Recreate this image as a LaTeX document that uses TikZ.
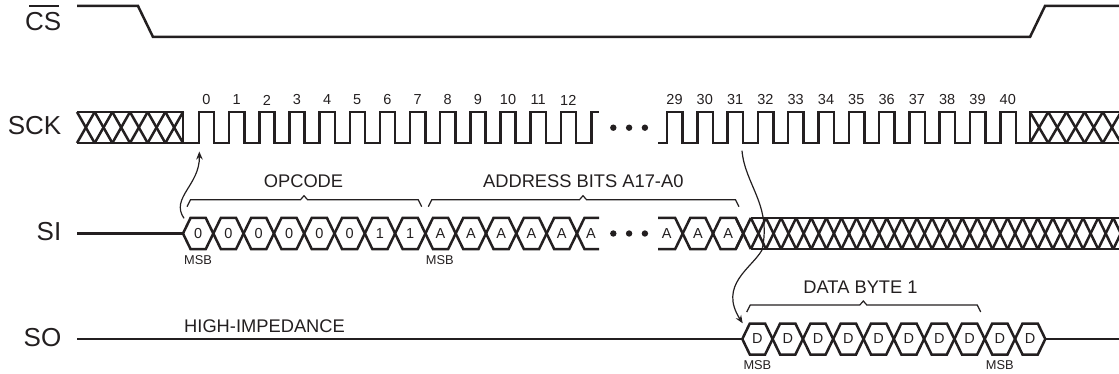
\documentclass[tikz,border=0pt]{standalone}
\usepackage{fontspec}
\setmainfont{Liberation Sans}
\usetikzlibrary{arrows.meta,positioning}
\definecolor{inkblack}{HTML}{231F20}
\tikzset{
  wave/.style={draw=inkblack, line width=2.5pt, line join=miter},
  thinline/.style={draw=inkblack, line width=1.2pt},
  flowarrow/.style={-{Stealth[length=8pt,width=6.5pt]}, draw=inkblack, line width=1.2pt},
  pinlabel/.style={inner sep=0pt, text=inkblack, anchor=east, font=\fontsize{26}{28}\selectfont},
  buslabel/.style={inner sep=0pt, text=inkblack, font=\fontsize{18.3}{20}\selectfont},
  clklabel/.style={inner sep=0pt, text=inkblack, font=\fontsize{14.5}{16}\selectfont},
  bitlabel/.style={inner sep=0pt, text=inkblack, font=\fontsize{14.5}{16}\selectfont},
  msblabel/.style={inner sep=0pt, text=inkblack, font=\fontsize{12.8}{14}\selectfont},
  gapdot/.style={circle, fill=inkblack, inner sep=0pt, minimum size=6.4pt},
}
\newcommand{\bitcell}[4]{%
  \draw[wave] (#2,#3) -- ++(7.5,-15.5) -- ++(15.3,0) -- ++(7.5,15.5) -- ++(-7.5,15.5) -- ++(-15.3,0) -- cycle;
  \node[bitlabel] (#1) at (#2+15.15,#3) {#4};
}
\newcommand{\busbrace}[4]{%
  \draw[thinline] (#1,#4+7) -- (#1+3.5,#4) -- (#3-3.5,#4) -- (#3,#4-4) -- (#3+3.5,#4) -- (#2-3.5,#4) -- (#2,#4+7);
}

\begin{document}
\begin{tikzpicture}[x=1pt, y=-1pt]
    \useasboundingbox (0,0) rectangle (1119,374);

    \node[pinlabel] (cs) at (61.5,22) {CS};
    \node[pinlabel] (sck) at (61.5,126) {SCK};
    \node[pinlabel] (si) at (61.5,232) {SI};
    \node[pinlabel] (so) at (61.5,338) {SO};
    \draw[thinline, line width=1.4pt] (29,6) -- (59,6);

    \draw[wave] (77,6) -- (138,6) -- (153,37) -- (1030,37) -- (1045,6) -- (1119,6);

    \begin{scope}
    \clip (0,0) rectangle (1119,374);
    % don't care regions
    \draw[wave] (77,112) -- (183,112) -- (183,143) -- (77,143);
    \foreach \i in {0,...,5} {
        \draw[wave] ({77+17.67*\i},112) -- ({77+17.67*(\i+1)},143);
        \draw[wave] ({77+17.67*\i},143) -- ({77+17.67*(\i+1)},112);
    }
    \draw[wave] (1119,112) -- (1030,112) -- (1030,143) -- (1119,143);
    \foreach \i in {0,...,4} {
        \draw[wave] ({1030+18.2*\i},112) -- ({1030+18.2*(\i+1)},143);
        \draw[wave] ({1030+18.2*\i},143) -- ({1030+18.2*(\i+1)},112);
    }
    \draw[wave] (750.8,218) -- (1119,218);
    \draw[wave] (750.8,249) -- (1119,249);
    \foreach \i in {0,...,25} {
        \draw[wave] ({735.8+15.1*\i},218) -- ({750.8+15.1*\i},249);
        \draw[wave] ({735.8+15.1*\i},249) -- ({750.8+15.1*\i},218);
    }
    \end{scope}

    % clock
    \draw[wave] (183,143) foreach \i in {0,...,12} {
        -- ({199+30.15*\i},143) -- ++(0,-31) -- ++(15.2,0) -- ++(0,31)
    } -- (591.7,143) -- (591.7,112) -- (599,112);
    \draw[wave] (658,143) foreach \i in {0,...,11} {
        -- ({667+30.3*\i},143) -- ++(0,-31) -- ++(15.5,0) -- ++(0,31)
    } -- (1030,143);
    \foreach \n in {0,...,12}
        \node[clklabel] (clk\n) at ({206.5+30.15*\n},100) {\n};
    \foreach \n in {29,...,40}
        \node[clklabel] (clk\n) at ({674.5+30.3*(\n-29)},100) {\n};

    \node[gapdot] (sckdota) at (613.3,127.7) {};
    \node[gapdot, right=9pt of sckdota] (sckdotb) {};
    \node[gapdot, right=9pt of sckdotb] (sckdotc) {};

    % serial in
    \draw[wave] (77,233.5) -- (183,233.5);
    \foreach \lab [count=\i from 0] in {0,0,0,0,0,0,1,1,A,A,A,A,A} {
        \pgfmathsetmacro{\cellx}{183+30.3*\i}
        \bitcell{sibit\i}{\cellx}{233.5}{\lab}
    }
    \draw[wave] (599,218) -- (584.4,218) -- (576.9,233.5) -- (584.4,249) -- (599,249);
    \node[bitlabel] (sibit13) at (591,233.5) {A};
    \node[gapdot] (sidota) at (613.3,233.5) {};
    \node[gapdot, right=9pt of sidota] (sidotb) {};
    \node[gapdot, right=9pt of sidotb] (sidotc) {};
    \draw[wave] (658,218) -- (675.2,218) -- (682.7,233.5) -- (675.2,249) -- (658,249);
    \node[bitlabel] (sibit14) at (666.7,233.5) {A};
    \bitcell{sibit15}{682.7}{233.5}{A}
    \bitcell{sibit16}{713}{233.5}{A}

    % serial out
    \draw[wave] (77,339) -- (742.3,339);
    \foreach \i in {0,...,9} {
        \pgfmathsetmacro{\cellx}{742.3+30.3*\i}
        \bitcell{sobit\i}{\cellx}{339}{D}
    }
    \draw[wave] (1045.3,339) -- (1119,339);

    \node[buslabel] (opcode) at (303.5,181.7) {OPCODE};
    \node[buslabel] (addr) at (583.3,181.7) {ADDRESS BITS A17-A0};
    \node[buslabel] (databyte) at (860.5,287.7) {DATA BYTE 1};
    \node[buslabel, anchor=west] (hiz) at (184,325.7) {HIGH-IMPEDANCE};
    \busbrace{187}{421.7}{304}{199.7}
    \busbrace{428.3}{739}{583}{199.7}
    \busbrace{746.7}{980.7}{863.3}{305}

    \node[msblabel] (msba) at (198,259.7) {MSB};
    \node[msblabel] (msbb) at (439.8,259.7) {MSB};
    \node[msblabel] (msbc) at (757.4,365.3) {MSB};
    \node[msblabel] (msbd) at (999.7,365.3) {MSB};

    \coordinate (sckedge) at (199.3,151.5);
    \coordinate (sistart) at (184,218.3);
    \coordinate (sckfall) at (742,150.7);
    \coordinate (sobend) at (762,250);
    \coordinate (sostart) at (742.7,323.3);
    \draw[flowarrow] (sistart) .. controls (170,198) and (200,185) .. (sckedge);
    \draw[flowarrow] (sckfall) .. controls (745,185) and (772,205) .. (sobend)
        .. controls (752,268) and (718,285) .. (sostart);
\end{tikzpicture}
\end{document}
